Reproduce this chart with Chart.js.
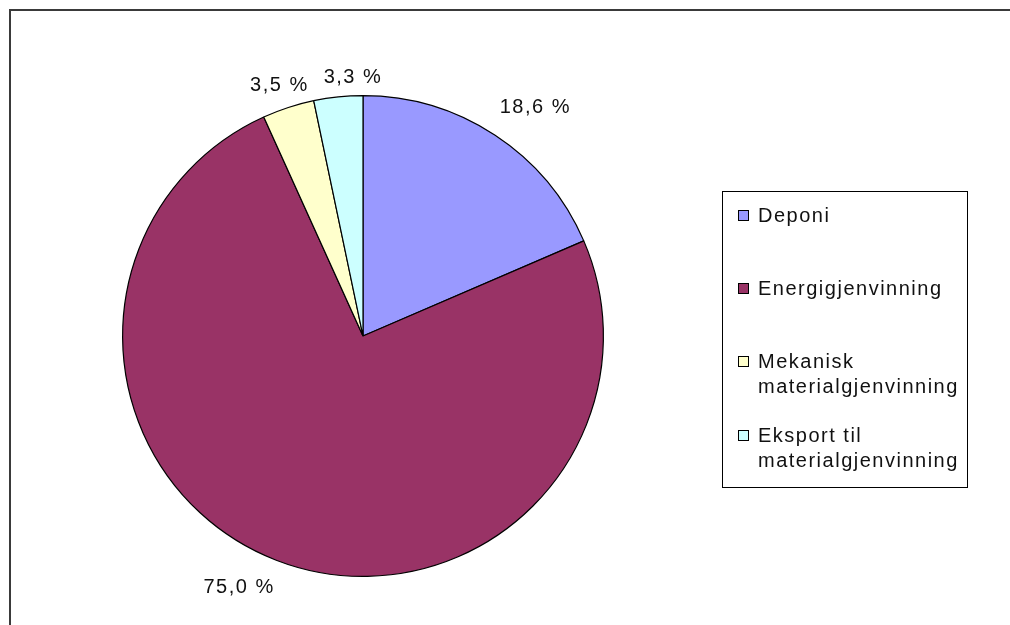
<!DOCTYPE html>
<html>
<head>
<meta charset="utf-8">
<script src="https://cdn.jsdelivr.net/npm/chart.js@4.4.1/dist/chart.umd.min.js"></script>
<style>
  html, body { margin: 0; padding: 0; background: #fff; }
  canvas { display: block; }
</style>
</head>
<body>
<canvas id="c" width="1010" height="625"></canvas>
<script>
// ---- data ----
const categories = ["Deponi", "Energigjenvinning", "Mekanisk materialgjenvinning", "Eksport til materialgjenvinning"];
const legendLines = [["Deponi"], ["Energigjenvinning"], ["Mekanisk", "materialgjenvinning"], ["Eksport til", "materialgjenvinning"]];
const shares = [18.6, 75.0, 3.5, 3.3];
const sliceColors = ["#9999FF", "#993366", "#FFFFCC", "#CCFFFF"];

// ---- styling constants ----
const FONT = '20px "Liberation Sans", Arial, sans-serif';
const SPACING = '1.5px';
const TEXT_COLOR = '#111';
const labelGap = 12;
const labelNudge = [[14, -12], [-20, 10], [4, -4], [19, 0]];

function fmt(v) { return v.toFixed(1).replace('.', ',') + ' %'; }

const framePlugin = {
  id: 'frame',
  beforeDraw(chart) {
    const ctx = chart.ctx;
    ctx.save();
    ctx.fillStyle = '#fff';
    ctx.fillRect(0, 0, chart.width, chart.height);
    ctx.strokeStyle = '#3a3a3a';
    ctx.lineWidth = 2;
    ctx.strokeRect(10, 10, chart.width + 20, chart.height + 20);
    ctx.restore();
  }
};

const labelPlugin = {
  id: 'sliceLabels',
  afterDatasetsDraw(chart) {
    const ctx = chart.ctx;
    const meta = chart.getDatasetMeta(0);
    const vals = chart.data.datasets[0].data;
    ctx.save();
    ctx.font = FONT;
    ctx.letterSpacing = SPACING;
    ctx.fillStyle = TEXT_COLOR;
    ctx.textAlign = 'center';
    ctx.textBaseline = 'middle';
    meta.data.forEach((arc, i) => {
      const mid = (arc.startAngle + arc.endAngle) / 2;
      const txt = fmt(vals[i]);
      const w = ctx.measureText(txt).width;
      const h = 14;
      const r = arc.outerRadius + labelGap;
      const cx = arc.x + r * Math.cos(mid) + (w / 2) * Math.cos(mid) + labelNudge[i][0];
      const cy = arc.y + r * Math.sin(mid) + (h / 2) * Math.sin(mid) + labelNudge[i][1];
      ctx.fillText(txt, cx, cy);
    });
    ctx.restore();
  }
};

const legendPlugin = {
  id: 'boxLegend',
  afterDraw(chart) {
    const ctx = chart.ctx;
    const bg = chart.data.datasets[0].backgroundColor;
    const box = { x: 722.5, y: 191.5, w: 245, h: 296 };
    ctx.save();
    ctx.fillStyle = '#fff';
    ctx.fillRect(box.x, box.y, box.w, box.h);
    ctx.strokeStyle = '#000';
    ctx.lineWidth = 1;
    ctx.strokeRect(box.x, box.y, box.w, box.h);
    ctx.font = FONT;
    ctx.letterSpacing = SPACING;
    ctx.textAlign = 'left';
    ctx.textBaseline = 'alphabetic';
    const firstBase = box.y + 30.5;
    const step = 73.2;
    const lineH = 25;
    legendLines.forEach((lines, i) => {
      const base = firstBase + i * step;
      const sy = Math.round(base) - 12;
      ctx.fillStyle = bg[i];
      ctx.fillRect(738, sy, 11, 11);
      ctx.strokeStyle = '#000';
      ctx.strokeRect(738.5, sy + 0.5, 10, 10);
      ctx.fillStyle = TEXT_COLOR;
      lines.forEach((ln, j) => ctx.fillText(ln, 758, base + j * lineH));
    });
    ctx.restore();
  }
};

new Chart(document.getElementById('c'), {
  type: 'pie',
  data: {
    labels: categories,
    datasets: [{
      data: shares,
      backgroundColor: sliceColors,
      borderColor: '#000',
      borderWidth: 1.2
    }]
  },
  options: {
    responsive: false,
    devicePixelRatio: 1,
    animation: false,
    events: [],
    layout: { padding: { left: 122, right: 406, top: 95, bottom: 48 } },
    plugins: {
      legend: { display: false },
      tooltip: { enabled: false },
      title: { display: false }
    }
  },
  plugins: [framePlugin, labelPlugin, legendPlugin]
});
</script>
</body>
</html>
